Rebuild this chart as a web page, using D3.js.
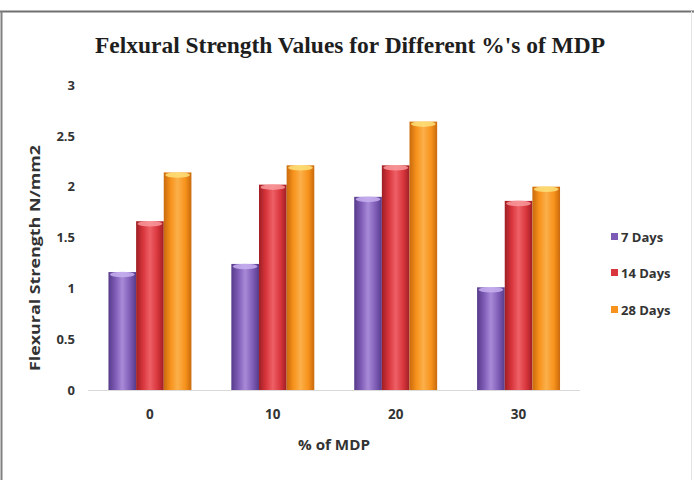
<!DOCTYPE html>
<html><head><meta charset="utf-8">
<script src="https://cdn.jsdelivr.net/npm/d3@7"></script>
<style>
html,body{margin:0;padding:0;background:#fff;}
svg{display:block;}
</style></head>
<body>
<svg id="chart" width="694" height="480"></svg>
<script>
const categories = ["0", "10", "20", "30"];
const seriesNames = ["7 Days", "14 Days", "28 Days"];
const days7 = [1.16, 1.24, 1.90, 1.01];
const days14 = [1.66, 2.02, 2.21, 1.86];
const days28 = [2.14, 2.21, 2.64, 2.00];
const yTicks = [0, 0.5, 1, 1.5, 2, 2.5, 3];
const titleText = "Felxural Strength Values for Different %'s of MDP";
const yTitle = "Flexural  Strength N/mm2";
const xTitle = "%  of MDP";

const seriesValues = [days7, days14, days28];
const colors = [
  {main:"#7e5cb6", light:"#a88ad8", dark:"#563a8a", cap:"#c7b0f0"},
  {main:"#d8353c", light:"#ee6066", dark:"#9e1f24", cap:"#f89a9c"},
  {main:"#f7921c", light:"#fbb04a", dark:"#c96a0c", cap:"#fde07a"}
];

const svg = d3.select("#chart");
const defs = svg.append("defs");
colors.forEach((c,i)=>{
  const g = defs.append("linearGradient").attr("id","grad"+i).attr("x1","0").attr("x2","1").attr("y1","0").attr("y2","0");
  g.append("stop").attr("offset","0%").attr("stop-color",c.dark);
  g.append("stop").attr("offset","25%").attr("stop-color",c.main);
  g.append("stop").attr("offset","50%").attr("stop-color",c.light);
  g.append("stop").attr("offset","78%").attr("stop-color",c.main);
  g.append("stop").attr("offset","100%").attr("stop-color",c.dark);
});

// frame
svg.append("line").attr("x1",0).attr("x2",694).attr("y1",11.5).attr("y2",11.5).attr("stroke","#707070").attr("stroke-width",2);
svg.append("line").attr("x1",1.5).attr("x2",1.5).attr("y1",11).attr("y2",480).attr("stroke","#808080").attr("stroke-width",2);
svg.append("line").attr("x1",691.5).attr("x2",691.5).attr("y1",11).attr("y2",480).attr("stroke","#e4e4e4").attr("stroke-width",1);

const x0 = d3.scaleBand().domain(categories).range([88.5, 580]).paddingInner(0.325).paddingOuter(0.1625);
const x1 = d3.scaleBand().domain(seriesNames).range([0, x0.bandwidth()]);
const y = d3.scaleLinear().domain([0, 3]).range([390, 85]);

const sans = "'Open Sans', 'DejaVu Sans', sans-serif";

// title
svg.append("text").attr("x", 350).attr("y", 53).attr("text-anchor","middle")
  .attr("font-family","'Liberation Serif', 'Times New Roman', serif").attr("font-weight","bold")
  .attr("font-size", 24).attr("fill","#1e1e1e").attr("textLength",510).attr("lengthAdjust","spacingAndGlyphs")
  .text(titleText);

// y axis labels
const yAxis = d3.axisLeft(y).tickValues(yTicks).tickSize(0).tickPadding(0).tickFormat(d3.format("~g"));
const yg = svg.append("g").attr("transform","translate(75,0)").call(yAxis);
yg.select(".domain").remove();
yg.selectAll("text").attr("font-family",sans).attr("font-weight","bold").attr("font-size",13).attr("fill","#333");

// baseline
svg.append("line").attr("x1",88).attr("x2",580).attr("y1",y(0)+0.5).attr("y2",y(0)+0.5).attr("stroke","#d9d9d9").attr("stroke-width",1);

// bars
const groups = svg.append("g").selectAll("g").data(categories).join("g")
  .attr("transform", d => `translate(${x0(d)},0)`);
groups.each(function(cat, ci){
  const g = d3.select(this);
  seriesNames.forEach((s, si)=>{
    const v = seriesValues[si][ci];
    const bx = x1(s), bw = x1.bandwidth();
    g.append("rect").attr("x",bx).attr("y",y(v)).attr("width",bw).attr("height",y(0)-y(v))
      .attr("fill","url(#grad"+si+")");
    g.append("ellipse").attr("cx",bx+bw/2).attr("cy",y(v)+2.5).attr("rx",bw/2-1.5).attr("ry",2.8)
      .attr("fill",colors[si].cap).attr("opacity",0.85);
  });
});

// x axis labels
const xAxis = d3.axisBottom(x0).tickSize(0).tickPadding(0);
const xg = svg.append("g").attr("transform","translate(0,409)").call(xAxis);
xg.select(".domain").remove();
xg.selectAll("text").attr("font-family",sans).attr("font-weight","bold").attr("font-size",13.5).attr("fill","#333");

// axis titles
svg.append("text").attr("x",334).attr("y",450).attr("text-anchor","middle")
  .attr("font-family",sans).attr("font-weight","bold").attr("font-size",13.5).attr("fill","#333")
  .attr("textLength",72).attr("lengthAdjust","spacingAndGlyphs").text(xTitle);
svg.append("text").attr("transform","translate(40,258) rotate(-90)").attr("text-anchor","middle")
  .attr("font-family",sans).attr("font-weight","bold").attr("font-size",14).attr("fill","#333")
  .attr("textLength",226).attr("lengthAdjust","spacingAndGlyphs").text(yTitle);

// legend
const legY = [237, 273, 310];
const leg = svg.append("g").selectAll("g").data(seriesNames).join("g")
  .attr("transform",(d,i)=>`translate(611,${legY[i]})`);
leg.append("rect").attr("x",0).attr("y",-4).attr("width",7).attr("height",7)
  .attr("fill",(d,i)=>colors[i].main);
leg.append("text").attr("x",10).attr("y",0).attr("dy","0.35em")
  .attr("font-family",sans).attr("font-weight","bold").attr("font-size",13).attr("fill","#333").text(d=>d);
</script>
</body></html>
